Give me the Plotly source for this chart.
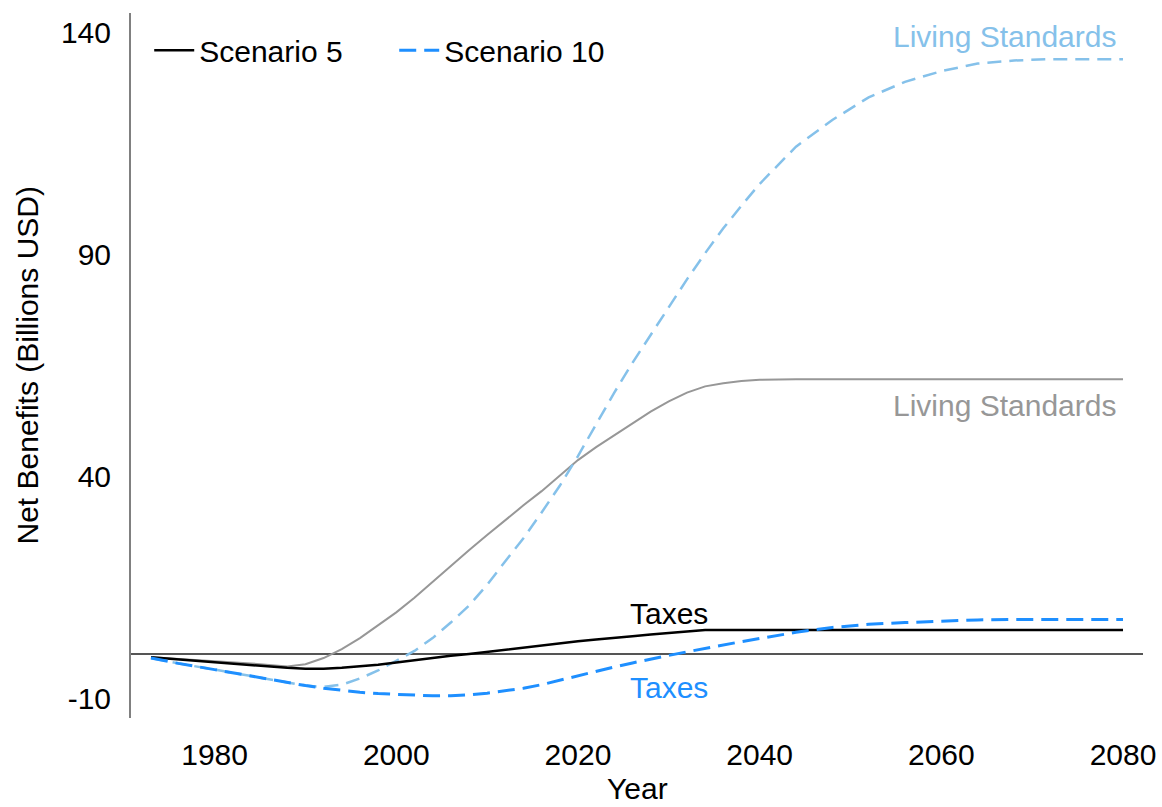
import plotly.graph_objects as go

years = [1973, 1976, 1980, 1984, 1988, 1990, 1992, 1994, 1996, 1998, 2000, 2002, 2004,
         2006, 2008, 2010, 2012, 2014, 2016, 2018, 2020, 2022, 2024, 2026, 2028, 2030,
         2032, 2034, 2036, 2038, 2040, 2044, 2048, 2052, 2056, 2060, 2064, 2068, 2072,
         2076, 2080]

s5_living = [-0.8, -1.2, -1.6, -2.2, -2.9, -2.4, -1.0, 1.0, 3.5, 6.5, 9.3, 12.6, 16.2,
             19.8, 23.3, 26.7, 30.1, 33.4, 36.6, 40.2, 43.6, 46.5, 49.1, 51.8, 54.5, 56.8,
             58.8, 60.2, 60.9, 61.4, 61.7, 61.8, 61.8, 61.8, 61.8, 61.8, 61.8, 61.8, 61.8,
             61.8, 61.8]

s10_living = [-1.0, -2.2, -3.6, -5.1, -6.6, -7.2, -7.5, -7.0, -5.6, -3.8, -1.6, 0.6, 3.5,
              7.0, 10.8, 15.5, 20.8, 26.0, 31.8, 37.8, 44.5, 51.8, 58.8, 65.5, 71.8, 78.2,
              84.3, 90.2, 95.8, 100.9, 105.8, 114.2, 120.2, 125.3, 128.8, 131.2, 132.9, 133.6,
              133.9, 133.9, 133.9]

s5_taxes = [-0.8, -1.3, -2.0, -2.6, -3.2, -3.4, -3.4, -3.2, -2.9, -2.5, -2.0, -1.5, -0.9,
            -0.5, -0.1, 0.4, 0.8, 1.4, 1.9, 2.4, 2.8, 3.2, 3.5, 3.9, 4.3, 4.7,
            5.0, 5.3, 5.3, 5.3, 5.3, 5.3, 5.3, 5.3, 5.3, 5.3, 5.3, 5.3, 5.3, 5.3, 5.3]

s10_taxes = [-1.0, -2.2, -3.6, -5.1, -6.6, -7.2, -7.8, -8.3, -8.7, -9.0, -9.2, -9.4, -9.5,
             -9.5, -9.3, -8.9, -8.4, -7.8, -7.0, -6.0, -4.9, -3.9, -3.0, -2.1, -1.2, -0.4,
             0.4, 1.2, 2.0, 2.7, 3.4, 4.8, 5.9, 6.6, 7.0, 7.3, 7.6, 7.7, 7.7, 7.7, 7.7]

x_ticks = [1980, 2000, 2020, 2040, 2060, 2080]
y_ticks = [-10, 40, 90, 140]

FONT = "Liberation Sans, Arial, sans-serif"
C_GRAY = "#979797"
C_LIGHT = "#85C1EA"
C_BLUE = "#1E8FFF"
C_BLACK = "#000000"

fig = go.Figure()
fig.add_trace(go.Scatter(x=years, y=s5_living, mode="lines", showlegend=False,
                         line=dict(color=C_GRAY, width=2)))
fig.add_trace(go.Scatter(x=years, y=s10_living, mode="lines", showlegend=False,
                         line=dict(color=C_LIGHT, width=2.5, dash="14px,8px")))
fig.add_trace(go.Scatter(x=years, y=s5_taxes, mode="lines", name="Scenario 5",
                         line=dict(color=C_BLACK, width=2.5)))
fig.add_trace(go.Scatter(x=years, y=s10_taxes, mode="lines", name="Scenario 10",
                         line=dict(color=C_BLUE, width=3, dash="17px,8px")))

annots = [
    dict(x=2079.4, y=139.1, text="Living Standards", color=C_LIGHT, xanchor="right"),
    dict(x=2079.4, y=56.0, text="Living Standards", color=C_GRAY, xanchor="right"),
    dict(x=2030.0, y=9.05, text="Taxes", color=C_BLACK, xanchor="center"),
    dict(x=2030.0, y=-7.7, text="Taxes", color=C_BLUE, xanchor="center"),
]
for a in annots:
    fig.add_annotation(x=a["x"], y=a["y"], text=a["text"], showarrow=False,
                       xanchor=a["xanchor"], yanchor="middle",
                       font=dict(family=FONT, size=30, color=a["color"]))

# axis titles
fig.add_annotation(x=0.5, y=-0.1262, xref="paper", yref="paper", text="Year",
                   showarrow=False, xanchor="center", yanchor="bottom",
                   font=dict(family=FONT, size=30, color="#000000"))
fig.add_annotation(x=-0.1018, y=0.5, xref="paper", yref="paper",
                   text="Net Benefits (Billions USD)", textangle=-90,
                   showarrow=False, xanchor="center", yanchor="middle",
                   font=dict(family=FONT, size=30, color="#000000"))

fig.update_layout(
    width=1162, height=807,
    margin=dict(l=131, r=19, t=13, b=89, autoexpand=False),
    paper_bgcolor="white", plot_bgcolor="white",
    font=dict(family=FONT, size=30, color="#000000"),
    showlegend=True,
    legend=dict(orientation="h", x=0.018, y=0.947, xanchor="left", yanchor="middle",
                font=dict(family=FONT, size=30), bgcolor="rgba(0,0,0,0)",
                itemwidth=40, entrywidth=190, entrywidthmode="pixels"),
)
fig.update_xaxes(range=[1970.8, 2082.2], tickvals=x_ticks, ticktext=[str(v) for v in x_ticks],
                 showgrid=False, zeroline=False, showline=False, ticks="",
                 ticklabelstandoff=16, automargin=False)
fig.update_yaxes(range=[-14.5, 144.3], tickvals=y_ticks, ticktext=[str(v) for v in y_ticks],
                 showgrid=False, zeroline=True, zerolinecolor="#555555", zerolinewidth=1.5,
                 showline=True, linecolor="#808080", linewidth=2, ticks="",
                 ticklabelstandoff=12, automargin=False)

# remove the default page margin so the 1162x807 figure fills the window exactly
fig.write_html("out.html",
               config={"displayModeBar": False},
               post_script="document.body.style.margin='0';"
                           "document.documentElement.style.overflow='hidden';")
